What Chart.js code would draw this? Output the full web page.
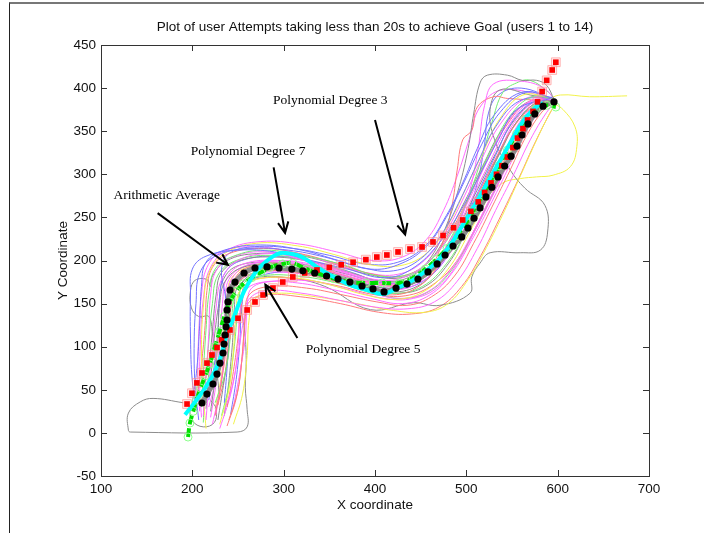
<!DOCTYPE html>
<html lang="en">
<head>
<meta charset="UTF-8">
<title>User attempts under 20s</title>
<script src="https://cdn.jsdelivr.net/npm/chart.js"></script>
<style>
  body { margin: 0; background: #fff; }
  #wrap { position: relative; width: 704px; height: 533px; overflow: hidden; }
  #frame { position: absolute; left: 9px; top: 2px; right: 0; bottom: 0; border-top: 2px solid #777; border-left: 1px solid #222; pointer-events: none; }
  canvas { position: absolute; left: 0; top: 0; }
</style>
</head>
<body>
<div id="wrap">
  <canvas id="plot" width="704" height="533"></canvas>
  <div id="frame"></div>
</div>
<script>
// axis ticks
const xTicks = [100, 200, 300, 400, 500, 600, 700];
const yTicks = [-50, 0, 50, 100, 150, 200, 250, 300, 350, 400, 450];

// fitted curves
const avgPath = [[210.6,34.7],[216,45],[222.6,56.7],[227,68.3],[230.3,81],[233.6,92.7],[234.7,103],[235.8,113.6],[236.9,123],[238,131],[238,142.6],[239,151.9],[241.3,165.8],[246.7,175],[256.6,185.5],[268.6,191.3],[281.8,192.5],[294.9,191.3],[309,190],[321,188],[334,185.5],[347,182],[359.5,178.5],[372.6,175],[385.8,170.4],[397.8,167],[409.9,163.5],[423,168],[435,172.7],[447,178.5],[458,186.7],[468,196],[476.7,206.4],[485.4,216.8],[495,227.3],[501.8,237.7],[508.4,249],[515,261],[521.5,273.7],[528,285],[534.7,297],[542,309.6],[549,321],[555.5,332.8],[561,345.6],[567.5,358.4],[575,370],[584,379],[596,384]];
const poly3 = [[194.2,33.5],[199.6,46],[205,58],[210.6,69.5],[216,81],[221.5,90.4],[227,99],[232,108],[237,114],[241.2,119.4],[250,133],[260,142.6],[268.6,151.9],[277.4,160],[288.3,168],[299,175],[310,180.9],[323,185.5],[336.5,189],[350,192],[363,195],[376,198],[390,201],[402,204],[413,206.4],[425.2,209.9],[438.3,213.3],[451.5,215.7],[463.5,221.5],[474.5,229],[486,238],[496,247],[505,257],[513,268],[520,279],[527,290],[533,300],[539,310],[545,320],[551,331],[556,342],[562,353],[567,363],[573,373],[578,384],[583,396],[588,409],[594,421],[598,430]];
const poly5 = [[195.3,-4.8],[197.4,11.5],[201,25],[204.5,38],[209,52],[214,66],[219,80],[224.8,100],[230,118],[235,135],[241,152],[248,164],[256,173],[265,180],[275,186],[285,192],[299,196],[310,197],[325,190],[340,184],[355,179],[372,175],[390,174],[408,174],[427,174],[442,180],[455,190],[467,201],[479,214],[490,229],[500,244],[509,260],[518,276],[527,293],[536,310],[545,328],[555,347],[565,364],[576,376],[588,380],[598,378]];
const poly7 = [[192,21],[203,36],[214,52],[223,68],[230,85],[234,100],[239,118],[245,133],[251,150],[257,165],[264,178],[272,190],[282,200],[292,207],[299,209],[314.6,206.4],[325.5,200.6],[336.5,192.5],[350.7,183.2],[372.6,171.6],[391.3,165.8],[408.8,161.1],[424,168],[438.3,175],[452.6,185.5],[466,197],[476,209],[485,222],[493,236],[501,250],[509,264],[516,277],[523,290],[530,303],[537,316],[544,329],[551,342],[558,355],[566,367],[575,377],[584,383]];

// individual user attempts
const user01 = [[205,25],[200,60],[198,110],[198,160],[200,190],[215,205],[250,212],[290,210],[330,200],[370,190],[410,180],[440,190],[470,220],[495,260],[515,300],[535,340],[555,375],[592,388]];
const user02 = [[215,15],[218,55],[222,100],[226,145],[232,178],[250,200],[285,208],[320,202],[360,190],[400,178],[430,180],[460,200],[485,235],[505,275],[525,320],[545,360],[570,385],[595,387]];
const user03 = [[225,20],[232,60],[238,105],[242,145],[248,170],[265,185],[300,188],[340,180],[380,168],[415,160],[445,168],[470,195],[492,235],[512,275],[532,318],[552,355],[575,380],[597,385]];
const user04 = [[210,30],[212,70],[215,120],[218,160],[225,190],[245,205],[280,212],[325,205],[365,195],[405,182],[440,185],[465,205],[488,240],[508,285],[528,330],[548,368],[572,390],[596,387]];
const user05 = [[230,10],[240,50],[245,95],[248,140],[252,165],[270,178],[310,180],[350,172],[390,160],[425,155],[455,165],[480,190],[502,230],[522,270],[542,310],[560,350],[580,378],[598,384]];
const user06 = [[220,25],[225,65],[228,110],[230,150],[236,176],[255,192],[292,196],[335,190],[375,178],[412,168],[446,175],[474,202],[496,240],[517,282],[537,325],[556,362],[578,384],[596,386]];
const user07 = [[235,25],[245,60],[250,100],[252,140],[258,165],[278,175],[315,174],[355,166],[395,156],[430,150],[460,160],[484,185],[505,222],[525,262],[545,305],[563,345],[582,375],[597,385]];
const user08 = [[200,35],[205,75],[208,125],[210,170],[215,198],[235,212],[275,218],[320,212],[360,200],[395,190],[425,195],[455,215],[478,250],[498,292],[517,335],[537,372],[565,395],[594,388]];
const user09 = [[218,30],[228,70],[235,115],[238,155],[244,180],[262,195],[300,198],[345,188],[385,176],[420,166],[450,175],[476,200],[498,238],[518,280],[540,322],[558,360],[580,384],[597,386]];
const user10 = [[240,15],[250,50],[255,95],[258,135],[262,160],[285,170],[325,168],[365,160],[402,152],[435,148],[462,158],[487,182],[508,220],[528,262],[548,305],[566,345],[585,375],[598,384]];
const user11 = [[212,20],[215,65],[218,115],[220,160],[226,188],[244,204],[282,210],[322,200],[362,188],[400,176],[435,176],[462,195],[486,230],[506,272],[526,315],[546,356],[570,384],[596,387]];
const user12 = [[225,35],[236,70],[242,115],[245,155],[250,178],[270,190],[305,192],[348,185],[388,172],[420,162],[452,170],[478,196],[500,234],[520,276],[540,318],[558,355],[580,380],[597,385]];
const user13 = [[207,15],[203,55],[202,105],[204,150],[208,185],[225,205],[262,214],[305,212],[345,204],[385,192],[420,188],[450,202],[474,232],[494,272],[513,315],[532,355],[558,385],[594,389]];
const user14 = [[215,5],[212,45],[210,95],[212,145],[218,185],[235,208],[270,220],[315,217],[355,207],[395,195],[432,195],[460,212],[482,245],[500,285],[518,325],[537,365],[562,392],[595,388]];
const user15 = [[245,30],[252,70],[258,110],[260,145],[265,168],[290,176],[330,176],[372,166],[410,156],[442,156],[470,170],[492,200],[512,240],[532,282],[550,322],[568,358],[586,380],[598,384]];
const user16 = [[228,15],[234,55],[240,100],[240,145],[244,172],[262,188],[300,192],[340,186],[378,174],[414,164],[446,170],[472,196],[494,234],[514,276],[533,318],[552,356],[575,382],[596,386]];
const user17 = [[205,40],[210,80],[214,125],[216,165],[222,192],[240,208],[278,214],[318,208],[360,196],[398,184],[430,182],[458,198],[482,232],[502,272],[522,315],[543,355],[568,384],[596,387]];
const user18 = [[222,10],[230,50],[236,95],[240,140],[246,170],[266,184],[305,186],[350,178],[392,164],[428,156],[458,164],[482,188],[504,226],[524,268],[544,310],[562,350],[582,378],[597,385]];
const user19 = [[235,35],[238,75],[240,120],[236,160],[232,190],[240,208],[268,216],[310,214],[350,206],[390,196],[425,198],[456,218],[478,252],[496,290],[512,330],[530,368],[560,395],[594,389]];
const user20 = [[232,20],[240,55],[246,100],[250,145],[255,172],[275,182],[315,182],[358,174],[398,162],[432,156],[462,166],[486,192],[507,230],[527,272],[546,314],[564,354],[584,380],[598,385]];
const user21 = [[208,25],[206,65],[207,115],[210,160],[216,192],[232,210],[268,216],[308,210],[350,198],[390,186],[425,184],[454,200],[478,234],[498,275],[517,318],[537,358],[565,388],[595,388]];
const user22 = [[238,30],[244,65],[250,110],[254,150],[258,172],[280,180],[320,178],[362,170],[402,160],[438,160],[466,174],[490,200],[510,238],[530,280],[550,322],[568,360],[586,382],[598,384]];
const user23 = [[215,28],[218,70],[222,118],[226,160],[232,186],[252,200],[290,204],[332,198],[372,186],[410,176],[440,182],[462,205],[478,240],[492,285],[502,330],[508,370],[515,406],[523,415],[545,415],[561,409],[577,409],[588,403],[596,387]];
const user24 = [[220,18],[226,58],[230,105],[233,150],[238,180],[256,196],[295,200],[338,192],[378,180],[416,170],[445,178],[470,200],[490,238],[504,282],[513,330],[520,380],[530,405],[560,408],[585,400],[597,386]];
const user25 = [[228,32],[236,70],[240,115],[243,155],[247,180],[266,194],[305,196],[348,188],[390,176],[425,172],[455,186],[472,215],[484,262],[490,305],[496,340],[506,351],[512,378],[530,390],[545,388],[597,385]];
const user26 = [[212,12],[214,55],[218,105],[222,150],[228,183],[248,200],[285,206],[328,200],[368,188],[405,176],[438,178],[465,198],[486,232],[503,275],[517,320],[528,360],[540,395],[555,406],[570,409],[590,395],[597,386]];
const user27 = [[230,5],[242,45],[250,90],[256,130],[262,155],[282,165],[320,162],[360,154],[400,146],[436,144],[465,152],[490,176],[512,214],[532,258],[552,300],[570,340],[588,372],[598,384]];
const user28 = [[245,10],[255,45],[260,90],[262,130],[268,155],[292,162],[335,158],[380,150],[420,142],[455,140],[480,150],[502,178],[522,215],[542,258],[560,300],[577,340],[592,372],[599,384]];
const user29 = [[218,38],[224,78],[228,120],[230,160],[236,186],[254,200],[292,205],[335,198],[375,186],[410,174],[442,178],[470,202],[493,238],[513,280],[532,322],[551,362],[576,386],[596,386]];
const user30 = [[226,22],[232,62],[236,108],[236,150],[240,178],[258,194],[296,200],[338,194],[378,182],[416,172],[448,178],[474,204],[496,242],[516,284],[536,326],[555,364],[578,386],[596,386]];
const user31 = [[190,35],[157,40],[143,36],[130,23],[130,3],[132,1],[249,1],[260,7],[260,27],[258,53],[259,85],[257,120],[252,154],[255,175],[272,186],[310,188],[350,180],[390,168],[425,162],[455,170],[480,196],[500,234],[520,276],[540,318],[558,356],[580,382],[597,386]];
const user32 = [[220,38],[226,28],[224,12],[212,7],[200,14],[198,28],[206,38],[214,40],[220,65],[224,110],[229,150],[234,178],[250,194],[288,198],[330,194],[370,184],[408,174],[442,178],[470,202],[492,240],[512,282],[532,324],[552,362],[576,385],[596,386]];
const user33 = [[230,40],[226,80],[222,115],[218,135],[207,135],[199,145],[198,165],[203,177],[216,178],[220,170],[222,182],[238,200],[270,208],[315,206],[355,196],[392,184],[428,180],[456,196],[478,228],[498,268],[518,310],[538,350],[564,382],[595,388]];
const user34 = [[235,20],[240,60],[244,105],[246,145],[250,170],[268,180],[305,180],[345,170],[395,143],[442,151],[471,148],[504,162],[506,181],[515,197],[526,209],[559,209],[581,212],[589,233],[586,264],[564,284],[548,305],[531,340],[526,375],[537,398],[570,392],[597,386]];
const user35 = [[225,28],[232,68],[236,112],[238,152],[242,178],[260,192],[298,196],[340,190],[380,178],[418,170],[450,178],[478,204],[500,240],[520,270],[540,290],[559,295],[577,297],[595,299],[614,309],[621,332],[619,355],[606,375],[592,386],[603,392],[635,390],[676,391]];
const user36 = [[242,22],[248,62],[252,105],[254,145],[260,170],[280,184],[320,186],[362,180],[400,170],[432,168],[458,180],[480,206],[498,245],[512,290],[520,335],[524,370],[535,392],[560,400],[596,387]];
const user37 = [[210,18],[208,58],[209,108],[212,155],[219,190],[238,212],[275,222],[318,219],[358,210],[398,200],[430,204],[456,224],[475,258],[490,298],[503,340],[515,378],[540,398],[595,388]];
const user38 = [[238,8],[248,40],[254,82],[257,122],[261,150],[278,160],[318,158],[362,150],[404,140],[440,138],[470,146],[495,170],[516,206],[536,248],[556,292],[574,334],[590,368],[599,384]];

const users = [user01,user02,user03,user04,user05,user06,user07,user08,user09,user10,user11,user12,user13,user14,user15,user16,user17,user18,user19,user20,user21,user22,user23,user24,user25,user26,user27,user28,user29,user30,user31,user32,user33,user34,user35,user36,user37,user38];
const userColors = ['#7373ff','#ff6bff','#ff7a7a','#74ee74','#f2f24a','#8c8c8c','#ff6bff','#7373ff','#ff6bff','#ff7a7a','#ff6bff','#74ee74','#7373ff','#f2f24a','#ff6bff','#8c8c8c','#ff7a7a','#ff6bff','#7373ff','#74ee74','#ff6bff','#ff7a7a','#8c8c8c','#ff6bff','#ff7a7a','#74ee74','#ff6bff','#f2f24a','#7373ff','#ff6bff','#8c8c8c','#8c8c8c','#8c8c8c','#8c8c8c','#f2f24a','#7373ff','#ff6bff','#ff7a7a'];

// annotation labels and arrows (data units)
const noteText = ['Arithmetic Average', 'Polynomial Degree 7', 'Polynomial Degree 3', 'Polynomial Degree 5'];
const noteAt = [[172, 275], [261, 327], [351, 386], [387, 97]];
const arrowFrom = [[162, 255], [289, 308], [400, 363], [315, 110]];
const arrowTo = [[239, 195], [301.5, 232], [433, 230], [280, 172]];

const toXY = arr => arr.map(p => ({x: p[0], y: p[1]}));

const datasets = [];
datasets.push({ data: toXY(avgPath), showLine: false, pointRadius: 3.6, pointBackgroundColor: '#000', pointBorderWidth: 0, order: 0 });
datasets.push({ data: toXY(poly3), showLine: false, pointStyle: 'rect', pointRadius: 4, pointBackgroundColor: '#ff0000', pointBorderWidth: 0, order: 1 });
datasets.push({ data: toXY(poly7), showLine: true, borderColor: '#00ffff', borderWidth: 4, tension: 0.4, pointRadius: 0, order: 2 });
datasets.push({ data: toXY(poly5), showLine: true, borderColor: '#00e000', borderWidth: 4, borderDash: [9, 4], tension: 0.4, pointRadius: 4, pointBackgroundColor: 'rgba(0,0,0,0)', pointBorderColor: '#8cff8c', pointBorderWidth: 1, order: 3 });
datasets.push({ data: toXY(avgPath), showLine: true, borderColor: '#8a8a8a', borderWidth: 5, tension: 0.3, pointRadius: 0, order: 4 });
datasets.push({ data: toXY(poly3), showLine: false, pointStyle: 'rect', pointRadius: 6.2, pointBackgroundColor: 'rgba(255,190,190,0.3)', pointBorderColor: 'rgba(255,140,140,0.6)', pointBorderWidth: 1, order: 5 });
users.forEach((u, i) => {
  datasets.push({ data: toXY(u), showLine: true, borderColor: userColors[i], borderWidth: 1, tension: 0.4, pointRadius: 0, order: 10 + i });
});

const matlabBox = {
  id: 'matlabBox',
  afterDatasetsDraw(chart) {
    const {ctx, chartArea: a, scales: {x, y}} = chart;
    ctx.save();
    ctx.strokeStyle = '#333';
    ctx.lineWidth = 1;
    ctx.strokeRect(a.left + 0.5, a.top + 0.5, a.right - a.left, a.bottom - a.top);
    ctx.beginPath();
    xTicks.forEach(v => {
      const px = Math.round(x.getPixelForValue(v)) + 0.5;
      ctx.moveTo(px, a.bottom); ctx.lineTo(px, a.bottom - 6);
      ctx.moveTo(px, a.top); ctx.lineTo(px, a.top + 6);
    });
    yTicks.forEach(v => {
      const py = Math.round(y.getPixelForValue(v)) + 0.5;
      ctx.moveTo(a.left, py); ctx.lineTo(a.left + 6, py);
      ctx.moveTo(a.right, py); ctx.lineTo(a.right - 6, py);
    });
    ctx.stroke();

    // labels and arrows
    ctx.fillStyle = '#000';
    ctx.strokeStyle = '#000';
    ctx.lineWidth = 2;
    ctx.font = '13.5px "Liberation Serif", "Times New Roman", serif';
    ctx.textAlign = 'center';
    ctx.textBaseline = 'middle';
    noteText.forEach((t, i) => {
      ctx.fillText(t, x.getPixelForValue(noteAt[i][0]), y.getPixelForValue(noteAt[i][1]));
      const x0 = x.getPixelForValue(arrowFrom[i][0]), y0 = y.getPixelForValue(arrowFrom[i][1]);
      const x1 = x.getPixelForValue(arrowTo[i][0]), y1 = y.getPixelForValue(arrowTo[i][1]);
      const ang = Math.atan2(y1 - y0, x1 - x0);
      ctx.beginPath();
      ctx.moveTo(x0, y0); ctx.lineTo(x1, y1);
      ctx.moveTo(x1 - 12 * Math.cos(ang - 0.45), y1 - 12 * Math.sin(ang - 0.45));
      ctx.lineTo(x1, y1);
      ctx.lineTo(x1 - 12 * Math.cos(ang + 0.45), y1 - 12 * Math.sin(ang + 0.45));
      ctx.stroke();
    });
    ctx.restore();
  }
};

const font = { family: '"Liberation Sans", Arial, sans-serif', size: 13.5 };

new Chart(document.getElementById('plot'), {
  type: 'scatter',
  data: { datasets },
  plugins: [matlabBox],
  options: {
    responsive: false,
    animation: false,
    layout: { padding: { left: 0, right: 55, top: 0, bottom: 0 } },
    plugins: {
      legend: { display: false },
      tooltip: { enabled: false },
      title: {
        display: true,
        fullSize: false,
        text: 'Plot of user Attempts taking less than 20s to achieve Goal (users 1 to 14)',
        color: '#111',
        font: { family: font.family, size: 13.5, weight: 'normal' },
        padding: { top: 19, bottom: 9.8 }
      }
    },
    scales: {
      x: {
        type: 'linear', min: 100, max: 700,
        afterBuildTicks: s => { s.ticks = xTicks.map(v => ({ value: v })); },
        afterFit: s => { s.height = 57; },
        grid: { display: false, drawTicks: false },
        border: { display: false },
        ticks: { color: '#111', font, padding: 5, maxRotation: 0 },
        title: { display: true, text: 'X coordinate', color: '#111', font, padding: { top: 0, bottom: 19.9 } }
      },
      y: {
        type: 'linear', min: -50, max: 450,
        afterBuildTicks: s => { s.ticks = yTicks.map(v => ({ value: v })); },
        afterFit: s => { s.width = 101; },
        grid: { display: false, drawTicks: false },
        border: { display: false },
        ticks: { color: '#111', font, padding: 5 },
        title: { display: true, text: 'Y Coordinate', color: '#111', font, padding: { top: 54.9, bottom: 0 } }
      }
    }
  }
});
</script>
</body>
</html>
